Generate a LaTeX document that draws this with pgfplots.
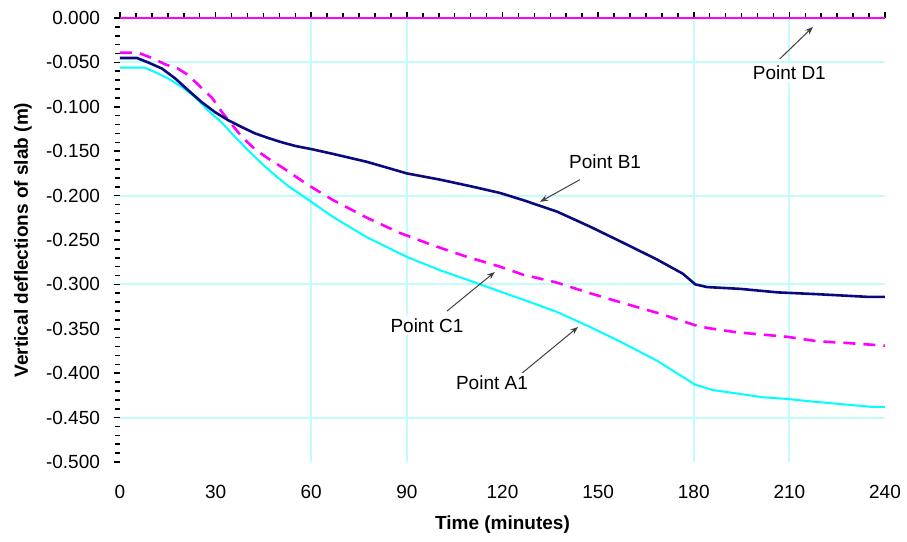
\documentclass[border=0pt]{standalone}
\usepackage{pgfplots}
\pgfplotsset{compat=1.18}
\usepackage{fontspec}
\setmainfont{Liberation Sans}
\usetikzlibrary{arrows.meta}
\definecolor{navyline}{RGB}{10,10,128}
\definecolor{magline}{RGB}{255,0,255}
\definecolor{cyanline}{RGB}{0,255,255}
\definecolor{gridcyan}{RGB}{195,252,252}

\pgfplotstableread{
x y
0 -0.045
5.3 -0.045
8.8 -0.050
13.2 -0.057
17.3 -0.068
21.3 -0.081
25.7 -0.095
29.8 -0.106
33.9 -0.115
38.3 -0.123
42.4 -0.130
46.4 -0.135
50.8 -0.140
54.9 -0.144
60.5 -0.148
66.8 -0.153
77.5 -0.162
90 -0.175
100.4 -0.182
110.7 -0.190
119.2 -0.197
126.4 -0.205
137.1 -0.218
147.5 -0.235
157.8 -0.253
168.5 -0.272
176.6 -0.288
180.5 -0.300
184.2 -0.303
194.5 -0.305
206.4 -0.309
218.7 -0.311
234.4 -0.314
240 -0.314
}\pointB

\pgfplotstableread{
x y
0 -0.039
5.6 -0.039
10 -0.045
14.1 -0.052
18.2 -0.057
21.3 -0.064
24.5 -0.075
28.9 -0.090
32 -0.106
35.1 -0.120
38.3 -0.134
42.4 -0.148
46.4 -0.158
50.8 -0.168
54.9 -0.178
59 -0.188
66.8 -0.205
77.5 -0.225
87.8 -0.242
98.2 -0.256
108.9 -0.269
119.2 -0.280
126.4 -0.289
137.1 -0.298
147.5 -0.310
157.8 -0.321
168.5 -0.332
180.5 -0.346
184.2 -0.349
193.6 -0.354
209.3 -0.359
218.7 -0.364
228.1 -0.366
240 -0.369
}\pointC

\pgfplotstableread{
x y
0 -0.056
7.8 -0.056
11 -0.061
15.1 -0.068
19.5 -0.078
23.5 -0.089
27.6 -0.104
32 -0.118
36.1 -0.134
40.2 -0.149
44.5 -0.164
48.6 -0.177
52.7 -0.189
58 -0.202
66.8 -0.224
77.5 -0.247
90 -0.269
100.4 -0.284
110.7 -0.297
119.2 -0.308
126.4 -0.317
137.1 -0.331
147.5 -0.348
157.8 -0.366
168.5 -0.386
180.5 -0.413
186 -0.419
193.9 -0.423
201.4 -0.427
209.3 -0.429
217.4 -0.432
226.8 -0.435
236.2 -0.438
240 -0.438
}\pointA

\pgfplotstableread{
x y
0 0
240 0
}\pointD

\begin{document}
\begin{tikzpicture}
\useasboundingbox (-60pt,-40pt) rectangle (393.5pt,231pt);
\begin{axis}[
  at={(0pt,0pt)}, anchor=south west,
  scale only axis, width=382.5pt, height=222pt,
  xmin=0, xmax=240, ymin=-0.5, ymax=0,
  xtick={0,30,60,90,120,150,180,210,240},
  ytick={-0.5,-0.45,-0.4,-0.35,-0.3,-0.25,-0.2,-0.15,-0.1,-0.05,0},
  minor x tick num=5, minor y tick num=4,
  xtick pos=right, xticklabel pos=left,
  ytick pos=left, yticklabel pos=left,
  tick align=outside,
  major tick length=3pt, minor tick length=2.5pt,
  every tick/.style={black, line width=0.8pt},
  axis line style={draw=none},
  /pgf/number format/assume math mode=true,
  ticklabel style={font=\fontsize{9.5}{11}\selectfont},
  yticklabel style={xshift=-3.5pt, /pgf/number format/.cd, fixed, fixed zerofill, precision=3},
  xticklabel style={anchor=north, yshift=-5pt},
  extra x ticks={60,90,180,210}, extra x tick labels={},
  extra x tick style={grid=major, major tick length=0pt},
  extra y ticks={-0.05,-0.2,-0.3,-0.45}, extra y tick labels={},
  extra y tick style={grid=major, major tick length=0pt},
  major grid style={draw=gridcyan, line width=1pt},
  xlabel={Time (minutes)},
  ylabel={Vertical deflections of slab (m)},
  label style={font=\fontsize{9.5}{11}\selectfont\bfseries},
  xlabel style={at={(axis description cs:0.5,-0.1419)}, anchor=center},
  ylabel style={at={(axis description cs:-0.1268,0.5)}, anchor=center},
  clip=false,
]
\addplot[cyanline, line width=1pt] table {\pointA};
\addplot[magline, line width=1.3pt, dash pattern=on 6pt off 4pt] table {\pointC};
\addplot[navyline, line width=1.3pt] table {\pointB};
\addplot[magline, line width=1.3pt] table {\pointD};

\draw[black!75, line width=0.5pt, -{Stealth[length=4pt,width=3pt]}] (axis cs:207,-0.046) -- (axis cs:217.4,-0.010);
\node[fill=white, inner sep=1.5pt, font=\fontsize{9.5}{11}\selectfont] at (axis cs:210,-0.062) {Point D1};

\draw[black!75, line width=0.5pt, -{Stealth[length=4pt,width=3pt]}] (axis cs:144.3,-0.182) -- (axis cs:131.8,-0.207);
\node[fill=white, inner sep=1.5pt, font=\fontsize{9.5}{11}\selectfont] at (axis cs:152.2,-0.162) {Point B1};

\draw[black!75, line width=0.5pt, -{Stealth[length=4pt,width=3pt]}] (axis cs:102.6,-0.330) -- (axis cs:117.6,-0.286);
\node[fill=white, inner sep=1.5pt, font=\fontsize{9.5}{11}\selectfont] at (axis cs:96.3,-0.346) {Point C1};

\draw[black!75, line width=0.5pt, -{Stealth[length=4pt,width=3pt]}] (axis cs:126.1,-0.400) -- (axis cs:143.7,-0.348);
\node[fill=white, inner sep=1.5pt, font=\fontsize{9.5}{11}\selectfont] at (axis cs:116.7,-0.411) {Point A1};
\end{axis}
\end{tikzpicture}
\end{document}
